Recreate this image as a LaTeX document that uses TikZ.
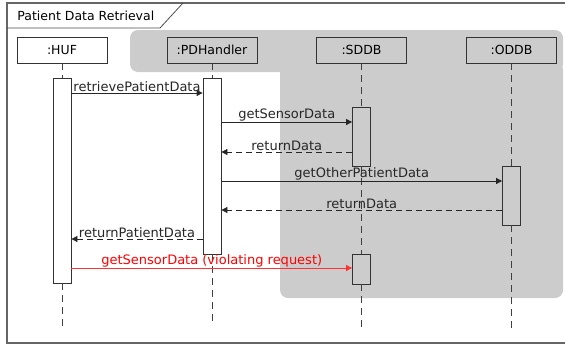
\documentclass[tikz,border=0pt]{standalone}
\usepackage{fontspec}
\setmainfont{DejaVu Sans}
\usetikzlibrary{arrows.meta,positioning,calc}

\begin{document}
\begin{tikzpicture}
  [x=1pt,y=-1pt,line width=0.8pt,
   every node/.style={font=\fontsize{12.5}{15}\selectfont,inner sep=0pt},
   head/.style={rectangle,draw=black!80,minimum width=90pt,minimum height=26pt},
   act/.style={rectangle,draw=black!80,minimum width=18pt},
   life/.style={black!75,dash pattern=on 7pt off 5pt},
   call/.style={black!85,-{Triangle[length=6pt,width=6pt]}},
   back/.style={call,dash pattern=on 6pt off 4pt},
   bad/.style={call,draw=red!80,text=red}]
  \useasboundingbox (0,0) rectangle (565,346);

  % grey area
  \fill[black!20,rounded corners=8pt] (130,30) rectangle (563,72);
  \fill[black!20,rounded corners=8pt] (280,62) rectangle (563,298);

  % frame and tab
  \draw[black!60,line width=1.4pt] (7,3) rectangle (572,343);
  \draw[black!70] (7,28) -- (160,28) -- (183,3);
  \node[anchor=west] (title) at (17,16) {Patient Data Retrieval};

  \node[head] (huf) at (62,50) {:HUF};
  \node[head] (pdh) at (212,50) {:PDHandler};
  \node[head] (sddb) at (361.5,50) {:SDDB};
  \node[head] (oddb) at (511.5,50) {:ODDB};

  \node[act,minimum height=205pt] (hufact) at (62,180.5) {};
  \node[act,minimum height=176pt] (pdhact) at (212,166) {};
  \node[act,minimum height=59pt] (sddbact1) at (361.5,136.5) {};
  \node[act,minimum height=59pt] (oddbact) at (511.5,195.5) {};
  \node[act,minimum height=30pt] (sddbact2) at (361.5,269) {};

  \coordinate (hufend) at (62,328);
  \coordinate (pdhend) at (212,326);
  \coordinate (sddbend) at (361.5,330);
  \coordinate (oddbend) at (511.5,328);

  \foreach \from/\to in {huf/hufact, hufact/hufend, pdh/pdhact, pdhact/pdhend,
      sddb/sddbact1, sddbact1/sddbact2, sddbact2/sddbend, oddb/oddbact, oddbact/oddbend}
    \draw[life] (\from) -- (\to);

  \foreach \from/\to/\y/\txt/\how in {
      hufact.east/pdhact.west/93/retrievePatientData/call,
      pdhact.east/sddbact1.west/122/getSensorData/call,
      sddbact1.west/pdhact.east/152/returnData/back,
      pdhact.east/oddbact.west/181/getOtherPatientData/call,
      oddbact.west/pdhact.east/210/returnData/back,
      pdhact.west/hufact.east/239/returnPatientData/back,
      hufact.east/sddbact2.west/268/getSensorData (violating request)/bad}
    \draw[\how] (\from |- 0,\y) -- node[above=0.5pt,font=\fontsize{13}{15}\selectfont] {\txt} (\to |- 0,\y);
\end{tikzpicture}
\end{document}
